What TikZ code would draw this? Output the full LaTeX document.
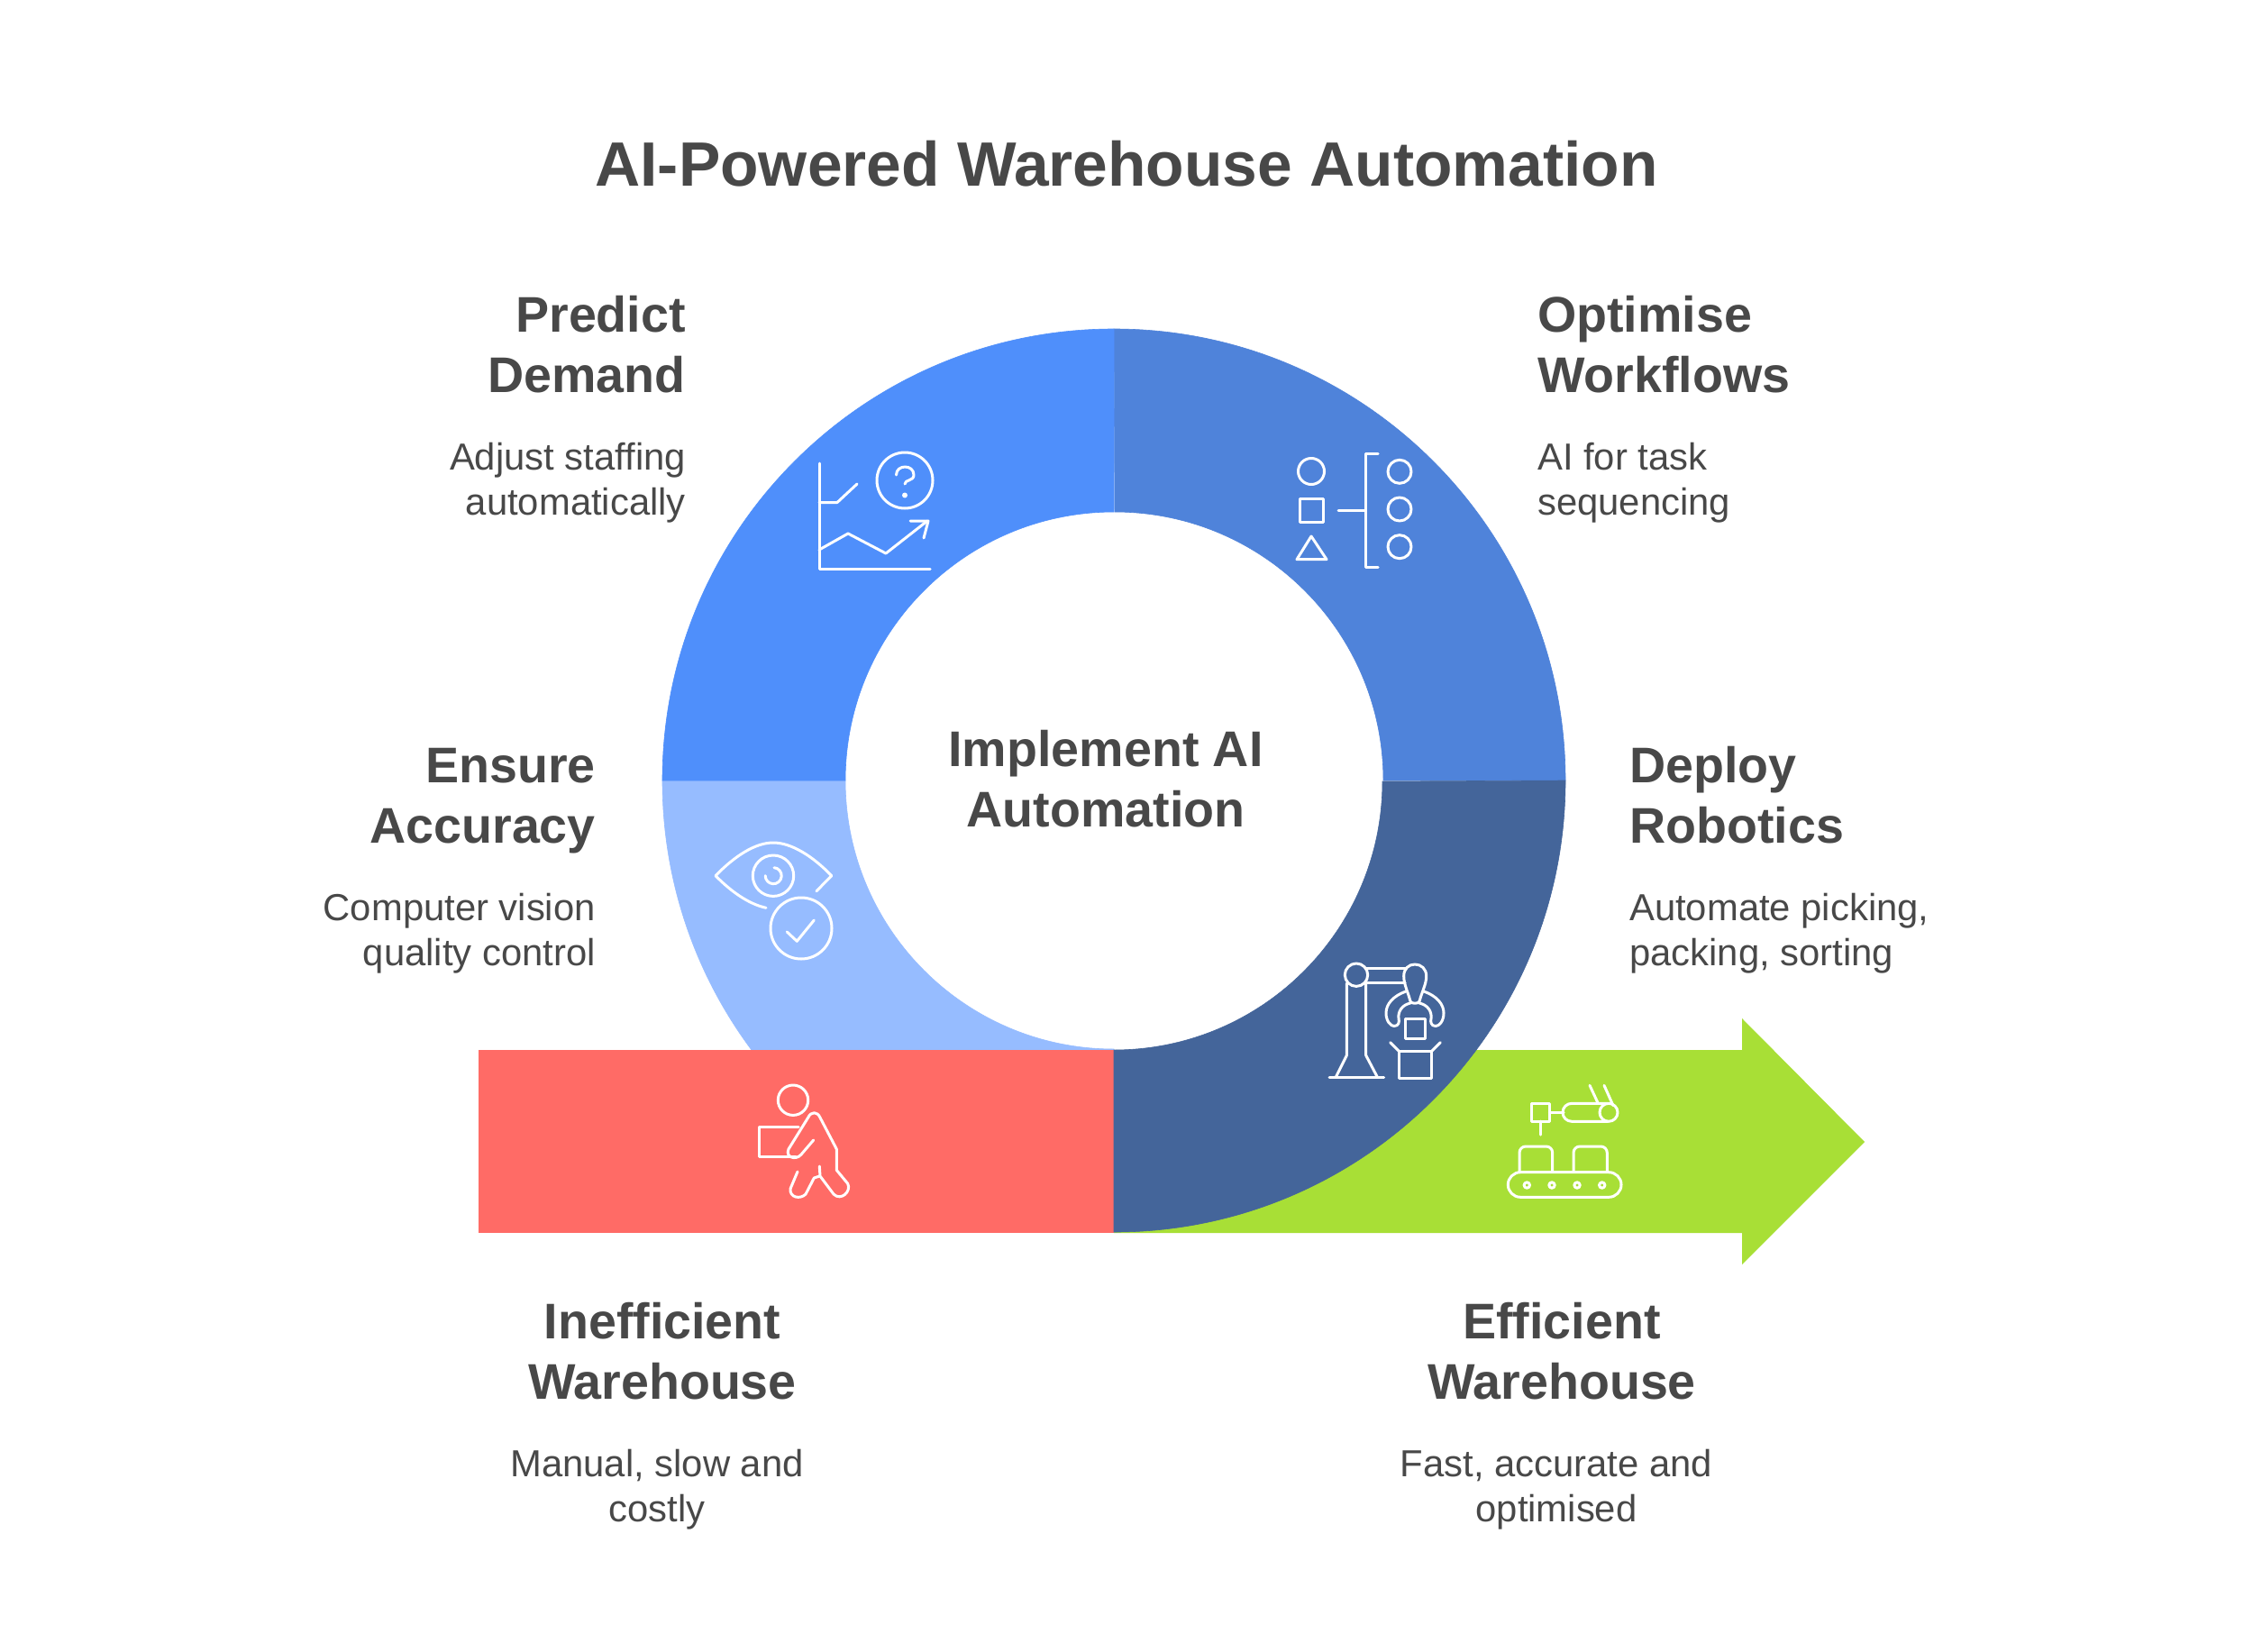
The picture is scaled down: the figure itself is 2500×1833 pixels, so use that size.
\documentclass[tikz,border=0pt]{standalone}
\usepackage{fontspec}
\setmainfont{Liberation Sans}
\definecolor{predictblue}{HTML}{4F8FFB}
\definecolor{optimblue}{HTML}{4F83DA}
\definecolor{robotblue}{HTML}{44659A}
\definecolor{accurblue}{HTML}{96BCFF}
\definecolor{badred}{HTML}{FF6B66}
\definecolor{goodgreen}{HTML}{A8DF36}
\definecolor{inktext}{HTML}{484848}
\tikzset{
 icon/.style={draw=white,line width=3pt,line join=round,line cap=round},
 sector/.style={fill=#1,draw=#1,line width=0.6pt},
 headtxt/.style={inner sep=0pt,text=inktext,font=\fontsize{55.6}{66.5}\selectfont\bfseries},
 bodytxt/.style={inner sep=0pt,text=inktext,font=\fontsize{41.8}{50}\selectfont},
}
\begin{document}
\begin{tikzpicture}[x=1pt,y=-1pt]
\useasboundingbox (0,0) rectangle (2500,1833);
\fill[white] (0,0) rectangle (2500,1833);
% arrow
\fill[goodgreen] (1236,1165) -- (1933,1165) -- (1933,1130) -- (2069,1267) -- (1933,1403) -- (1933,1368) -- (1236,1368) -- cycle;
% ring
\path[sector=accurblue] (735,866) arc[start angle=180,end angle=270,radius=501pt] -- (1236,1164) arc[start angle=270,end angle=180,radius=298pt] -- cycle;
\fill[badred] (531,1165) rectangle (1236,1368);
\path[sector=optimblue] (1236,365) arc[start angle=90,end angle=0,radius=501pt] -- (1535,866) arc[start angle=0,end angle=90,radius=298pt] -- cycle;
\path[sector=predictblue] (1236,365) arc[start angle=90,end angle=180,radius=501pt] -- (938,866) arc[start angle=180,end angle=90,radius=298pt] -- cycle;
\path[sector=robotblue] (1737,866) arc[start angle=0,end angle=-90,radius=501pt] -- (1236,1165) arc[start angle=-90,end angle=0,radius=298pt] -- cycle;
% predict icon
\draw[icon] (909,514) -- (909,631) -- (1032,631);
\draw[icon] (909,557.5) -- (929,557.5) -- (951,537);
\draw[icon] (1004,533) circle[radius=31pt];
\draw[icon] (994.5,527) .. controls (994.5,515) and (1014,515) .. (1014,527) .. controls (1014,534) and (1004,532) .. (1004,537);
\fill[white] (1004,549.5) circle[radius=3pt];
\draw[icon] (909,610) -- (941,592) -- (983,614) -- (1029,578);
\draw[icon] (1010,578) -- (1030,578) -- (1025,597);
% optimise icon
\draw[icon] (1455,523) circle[radius=14.5pt];
\draw[icon] (1442.5,553.5) rectangle (1468.5,579.5);
\draw[icon] (1439,620.7) -- (1455,595) -- (1472,620.7) -- cycle;
\draw[icon] (1485,566.7) -- (1515,566.7);
\draw[icon] (1529,503.7) -- (1515,503.7) -- (1515,629.3) -- (1529,629.3);
\draw[icon] (1553,523.3) circle[radius=13pt];
\draw[icon] (1553,565) circle[radius=13pt];
\draw[icon] (1553,606.7) circle[radius=13pt];
% accuracy icon
\draw[icon] (850,1007.3) .. controls (830,1003) and (810,988) .. (794,971.7) .. controls (815,950) and (838,935) .. (858,935) .. controls (878,935) and (902,950) .. (922.7,971.7) -- (906,988.7);
\draw[icon] (858,971.7) circle[radius=22.7pt];
\draw[icon] (859,962.7) arc[start angle=85,end angle=-180,radius=9pt];
\draw[icon] (889,1030) circle[radius=34pt];
\draw[icon] (873.3,1034) -- (884.3,1044.3) -- (903.3,1021);
% robot icon
\draw[icon] (1475,1195) -- (1535.7,1195);
\draw[icon] (1482.3,1195) -- (1494.3,1171) -- (1494.3,1091);
\draw[icon] (1528.3,1195) -- (1515.7,1171) -- (1515.7,1091);
\draw[icon] (1505,1081.7) circle[radius=12.7pt];
\draw[icon] (1515,1074) -- (1560,1074);
\draw[icon] (1515.7,1090.7) -- (1559,1090.7);
\draw[icon] (1565,1111) .. controls (1562,1100) and (1557.7,1092) .. (1557.7,1083) .. controls (1557.7,1075) and (1563,1070) .. (1570,1070) .. controls (1577,1070) and (1582.7,1075) .. (1582.7,1083) .. controls (1582.7,1092) and (1578,1100) .. (1575,1111) .. controls (1574,1114) and (1566,1114) .. (1565,1111) -- cycle;
\draw[icon] (1560,1100) .. controls (1546,1105) and (1538,1114) .. (1538,1124) .. controls (1538,1133) and (1543,1138.5) .. (1547,1138.5) .. controls (1552,1138.5) and (1553,1134) .. (1552,1130) .. controls (1551,1122) and (1556,1115) .. (1565,1113);
\draw[icon] (1580,1100) .. controls (1594,1105) and (1602,1114) .. (1602,1124) .. controls (1602,1133) and (1597,1138.5) .. (1593,1138.5) .. controls (1588,1138.5) and (1587,1134) .. (1588,1130) .. controls (1589,1122) and (1584,1115) .. (1575,1113);
\draw[icon] (1559.3,1130) rectangle (1581.7,1152.7);
\draw[icon] (1552.7,1166.7) rectangle (1588.3,1196);
\draw[icon] (1542.7,1156.7) -- (1552.7,1166.7);
\draw[icon] (1598.3,1156.7) -- (1588.3,1166.7);
% worker icon
\draw[icon] (880,1220.7) circle[radius=16.7pt];
\draw[icon] (886,1250) -- (842.7,1250) -- (842.7,1283.3) -- (883,1283.3);
\draw[icon] (902.7,1265) -- (889,1281) .. controls (883,1288) and (871,1284) .. (875,1275) -- (896.7,1240) .. controls (900,1233) and (907,1233) .. (910,1240) -- (928.3,1275) -- (928.3,1298.3) -- (940.7,1313.3) .. controls (945,1322) and (933,1333) .. (925,1325) -- (910,1305) -- (909.3,1294);
\draw[icon] (909.3,1305) -- (903.3,1307) -- (894,1325) .. controls (888,1331) and (876,1329) .. (877,1319) -- (885,1300);
% conveyor icon
\draw[icon] (1699.3,1224.3) rectangle (1719.3,1244);
\draw[icon] (1709.3,1244) -- (1709.3,1259);
\draw[icon] (1719.3,1234.3) -- (1735,1234.3);
\draw[icon] (1784,1224.3) -- (1744,1224.3) arc[start angle=90,end angle=270,radius=10pt] -- (1784,1244.3);
\draw[icon] (1785,1234.3) circle[radius=10pt];
\draw[icon] (1764,1204.3) -- (1773.3,1224.3);
\draw[icon] (1780,1204.3) -- (1790,1226.7);
\draw[icon] (1686,1300) -- (1686,1279) arc[start angle=180,end angle=90,radius=7pt] -- (1715.7,1272) arc[start angle=90,end angle=0,radius=7pt] -- (1722.7,1300);
\draw[icon] (1746,1300) -- (1746,1279) arc[start angle=180,end angle=90,radius=7pt] -- (1776.3,1272) arc[start angle=90,end angle=0,radius=7pt] -- (1783.3,1300);
\draw[icon,rounded corners=13.8pt] (1673.3,1300.7) rectangle (1799,1328.3);
\draw[icon] (1694.3,1315) circle[radius=3.2pt];
\draw[icon] (1722,1315) circle[radius=3.2pt];
\draw[icon] (1750,1315) circle[radius=3.2pt];
\draw[icon] (1777.7,1315) circle[radius=3.2pt];
% text
\node[inner sep=0pt,text=inktext,font=\fontsize{69.5}{80}\selectfont\bfseries,anchor=base] (title) at (1250,206) {AI-Powered Warehouse Automation};
\node[headtxt,anchor=base east,align=right] (h1) at (761,435) {Predict\\Demand};
\node[bodytxt,anchor=base east,align=right] (b1) at (761,571) {Adjust staffing\\automatically};
\node[headtxt,anchor=base west,align=left] (h2) at (1706,435) {Optimise\\Workflows};
\node[bodytxt,anchor=base west,align=left] (b2) at (1706,571) {AI for task\\sequencing};
\node[headtxt,anchor=base east,align=right] (h3) at (661,935) {Ensure\\Accuracy};
\node[bodytxt,anchor=base east,align=right] (b3) at (661,1071) {Computer vision\\quality control};
\node[headtxt,anchor=base west,align=left] (h4) at (1808,935) {Deploy\\Robotics};
\node[bodytxt,anchor=base west,align=left] (b4) at (1808,1071) {Automate picking,\\packing, sorting};
\node[headtxt,anchor=base,align=center] (h5) at (735,1552) {Inefficient\\Warehouse};
\node[bodytxt,anchor=base,align=center] (b5) at (729,1688) {Manual, slow and\\costly};
\node[headtxt,anchor=base,align=center] (h6) at (1733,1552) {Efficient\\Warehouse};
\node[bodytxt,anchor=base,align=center] (b6) at (1727,1688) {Fast, accurate and\\optimised};
\node[headtxt,anchor=base,align=center] (center) at (1227,917) {Implement AI\\Automation};
\end{tikzpicture}
\end{document}
